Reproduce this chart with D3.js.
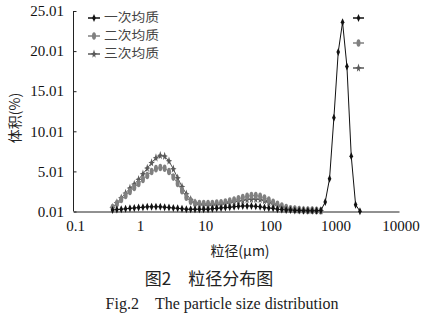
<!DOCTYPE html>
<html><head><meta charset="utf-8">
<script src="https://cdn.jsdelivr.net/npm/d3@7"></script>
<style>body{margin:0;background:#fff}svg{display:block}</style>
</head><body>
<svg id="c" width="426" height="321"></svg>
<script>
const sizes = [0.398,0.464,0.541,0.631,0.736,0.858,1,1.166,1.359,1.585,1.848,2.154,2.512,2.929,3.415,3.981,4.642,5.412,6.310,7.356,8.577,10,11.66,13.59,15.85,18.48,21.54,25.12,29.29,34.15,39.81,46.42,54.12,63.10,73.56,85.77,100,116.6,135.9,158.5,184.8,215.4,251.2,292.9,341.5,398.1,464.2,541.2,631.0,735.6,857.7,1000,1166,1359,1585,1848,2154,2512];
const series1 = [0.2,0.25,0.3,0.35,0.4,0.45,0.5,0.55,0.6,0.6,0.6,0.6,0.55,0.5,0.45,0.4,0.35,0.3,0.3,0.3,0.3,0.3,0.3,0.35,0.4,0.45,0.5,0.55,0.6,0.65,0.7,0.7,0.7,0.65,0.6,0.5,0.45,0.4,0.3,0.25,0.2,0.2,0.15,0.15,0.1,0.1,0.1,0.1,0.15,1.2,4.1,11.7,19.9,23.6,18.1,6.9,0.85,0.05];
const series2 = [0.5,1.0,1.5,2.0,2.5,3.0,3.5,4.0,4.5,5.0,5.35,5.5,5.4,5.0,4.3,3.5,2.6,1.8,1.3,1.05,1.0,1.0,1.0,1.0,1.05,1.1,1.2,1.3,1.45,1.6,1.75,1.9,2.0,2.0,1.9,1.7,1.45,1.15,0.9,0.7,0.5,0.35,0.3,0.25,0.2,0.2,0.2,0.15,0.1];
const series3 = [0.5,1.1,1.7,2.3,2.9,3.4,4.0,4.7,5.4,6.1,6.7,7.0,6.9,6.3,5.3,4.2,3.1,2.2,1.5,1.1,0.9,0.8,0.8,0.8,0.85,0.9,1.0,1.1,1.2,1.3,1.4,1.5,1.55,1.55,1.5,1.35,1.15,0.95,0.75,0.55,0.4,0.3,0.25,0.2,0.2,0.15,0.15,0.1,0.1];
const seriesNames = ["一次均质","二次均质","三次均质"];
const yTicks = [0.01,5.01,10.01,15.01,20.01,25.01];
const yTickLabels = ["0.01","5.01","10.01","15.01","20.01","25.01"];
const xTicks = [0.1,1,10,100,1000,10000];
const xTickLabels = ["0.1","1","10","100","1000","10000"];

const svg = d3.select("#c");
const x = d3.scaleLog().domain([0.1,10000]).range([73.5,399]);
const y = d3.scaleLinear().domain([0.01,25.01]).range([211.5,11]);
const serif = "'Liberation Serif','DejaVu Serif',serif";
const cjk = "'Noto Sans CJK SC',sans-serif";

// axes
const ya = svg.append("g").attr("transform","translate(73.5,0)")
  .call(d3.axisRight(y).tickValues(yTicks).tickSize(3).tickFormat(()=>""));
ya.select(".domain").attr("stroke","#222").attr("d","M0,"+y(25.01)+"V"+y(0.01));
ya.selectAll(".tick line").attr("stroke","#222");
svg.append("g").selectAll("text").data(yTicks).join("text")
  .attr("x",64).attr("y",d=>y(d)).attr("dy","0.35em").attr("text-anchor","end")
  .attr("font-family",serif).attr("font-size",15).attr("fill","#111")
  .text((d,i)=>yTickLabels[i]);

const xa = svg.append("g").attr("transform","translate(0,211.5)")
  .call(d3.axisBottom(x).tickValues(xTicks).tickSize(0).tickFormat(()=>""));
xa.select(".domain").attr("stroke","#222");
svg.append("g").selectAll("text").data(xTicks).join("text")
  .attr("x",d=>x(d)+2).attr("y",231).attr("text-anchor","middle")
  .attr("font-family",serif).attr("font-size",15).attr("fill","#111")
  .text((d,i)=>xTickLabels[i]);

// markers
const diamond = "M0,-4L1.8,0L0,4L-1.8,0Z";
const star = "M0,-4.5L1,-1.2L3.2,-0.2L1.2,0.8L1.6,3.8L0,2L-1.6,3.8L-1.2,0.8L-3.2,-0.2L-1,-1.2Z";
const styles = [
  {color:"#111", mk:"diamond"},
  {color:"#808080", mk:"ellipse"},
  {color:"#5a5a5a", mk:"star"}
];
function drawMarker(g, s, cx, cy){
  if(s.mk==="diamond") g.append("path").attr("d",diamond).attr("transform",`translate(${cx},${cy})`).attr("fill",s.color);
  else if(s.mk==="ellipse") g.append("ellipse").attr("cx",cx).attr("cy",cy).attr("rx",2).attr("ry",3.8).attr("fill",s.color);
  else g.append("path").attr("d",star).attr("transform",`translate(${cx},${cy})`).attr("fill",s.color);
}
const allSeries = [series1, series2, series3];
const line = d3.line().x(d=>x(d[0])).y(d=>y(d[1]));
[2,1,0].forEach(si=>{
  const data = allSeries[si].map((v,i)=>[sizes[i],v]);
  const s = styles[si];
  const g = svg.append("g");
  g.append("path").attr("d",line(data)).attr("fill","none").attr("stroke",s.color).attr("stroke-width",1);
  data.forEach(d=>drawMarker(g,s,x(d[0]),y(d[1])));
});

// legend
const lg = svg.append("g");
[18,36,54].forEach((ly,i)=>{
  lg.append("line").attr("x1",88).attr("x2",100).attr("y1",ly).attr("y2",ly).attr("stroke",styles[i].color).attr("stroke-width",1.5);
  drawMarker(lg,styles[i],94,ly);
  lg.append("text").attr("x",104).attr("y",ly).attr("dy","0.35em")
    .attr("font-family",cjk).attr("font-size",12.2).attr("fill","#444")
    .attr("textLength",55).attr("lengthAdjust","spacingAndGlyphs").text(seriesNames[i]);
});
// stray legend symbols on right
[18,43,68].forEach((ly,i)=>{
  lg.append("line").attr("x1",353).attr("x2",364).attr("y1",ly).attr("y2",ly).attr("stroke",styles[i].color).attr("stroke-width",1.5);
  drawMarker(lg,styles[i],358.5,ly);
});

// labels
svg.append("text").attr("transform","translate(15,118) rotate(-90)").attr("text-anchor","middle").attr("dy","0.35em")
  .attr("font-family",cjk).attr("font-size",14).attr("fill","#222").text("体积(%)");
svg.append("text").attr("x",240).attr("y",251).attr("dy","0.35em").attr("text-anchor","middle")
  .attr("font-family",cjk).attr("font-size",14).attr("fill","#222").text("粒径(μm)");
svg.append("text").attr("x",209).attr("y",279).attr("dy","0.35em").attr("text-anchor","middle")
  .attr("font-family",cjk).attr("font-size",17).attr("fill","#222").text("图2　粒径分布图");
svg.append("text").attr("x",222).attr("y",303).attr("dy","0.35em").attr("text-anchor","middle")
  .attr("font-family",serif).attr("font-size",16).attr("fill","#222").text("Fig.2　The particle size distribution");
</script>
</body></html>
